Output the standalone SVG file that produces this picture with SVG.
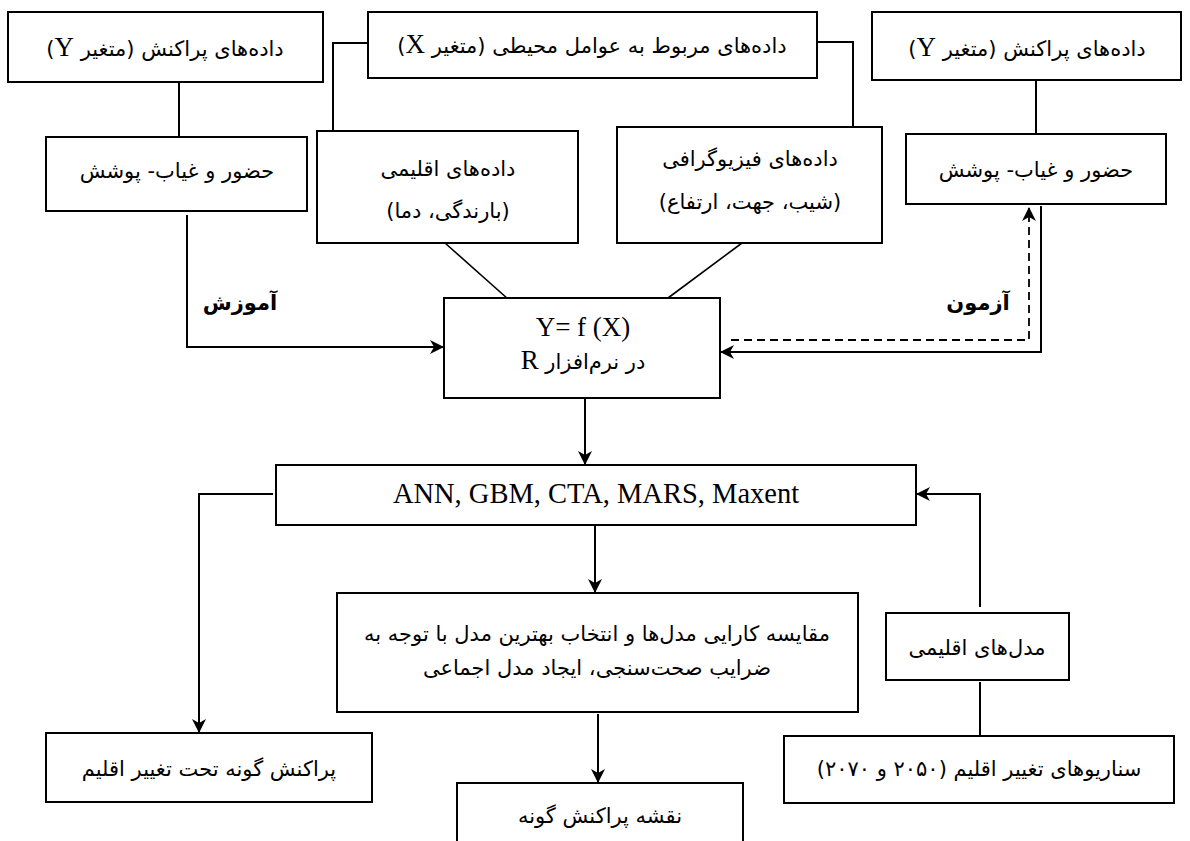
<svg xmlns="http://www.w3.org/2000/svg" width="1190" height="841" viewBox="0 0 1190 841">
<defs>
<style>
.box{fill:#fff;stroke:#000;stroke-width:2}
.ln{fill:none;stroke:#000;stroke-width:2}
.thin{fill:none;stroke:#000;stroke-width:1.6}
.dash{fill:none;stroke:#000;stroke-width:1.8;stroke-dasharray:8 5}
.fa{font-family:"DejaVu Sans",sans-serif;font-size:21px;direction:rtl;text-anchor:middle;fill:#000}
.b{font-weight:bold}
.en{font-family:"Liberation Serif",serif;font-size:27px;fill:#000}
.enc{font-family:"Liberation Serif",serif;font-size:27px;fill:#000;text-anchor:middle}
</style>
<marker id="arr" viewBox="0 0 14 14" refX="13" refY="7" markerWidth="14" markerHeight="14" markerUnits="userSpaceOnUse" orient="auto">
<path d="M0,0 L14,7 L0,14 L4,7 z" fill="#000"/>
</marker>
</defs>
<rect width="1190" height="841" fill="#fff"/>

<g id="connectors">
<line class="ln" x1="179" y1="82" x2="179" y2="137"/>
<polyline class="ln" points="368,43 333,43 333,131"/>
<polyline class="ln" points="817,42 853,42 853,127"/>
<line class="ln" x1="1036" y1="80" x2="1036" y2="134"/>
<line class="thin" x1="445" y1="243" x2="508" y2="299"/>
<line class="thin" x1="742" y1="243" x2="668" y2="298"/>
<polyline class="ln" points="187,215 187,347 443,347" marker-end="url(#arr)"/>
<polyline class="ln" points="1041,206 1041,352 721,352" marker-end="url(#arr)"/>
<polyline class="dash" points="731,340 1029,340 1029,208" marker-end="url(#arr)"/>
<line class="ln" x1="585" y1="398" x2="585" y2="464" marker-end="url(#arr)"/>
<polyline class="ln" points="273,494 199,494 199,732" marker-end="url(#arr)"/>
<polyline class="ln" points="980,607 980,494 917,494" marker-end="url(#arr)"/>
<line class="ln" x1="980" y1="682" x2="980" y2="736"/>
<line class="ln" x1="595" y1="526" x2="595" y2="592" marker-end="url(#arr)"/>
<line class="ln" x1="598" y1="714" x2="598" y2="782" marker-end="url(#arr)"/>
</g>

<g id="n-y-left">
<rect class="box" x="8" y="12" width="315" height="70"/>
<text class="fa" x="165" y="56">داده‌های پراکنش (متغیر <tspan class="en">Y</tspan>)</text>
</g>
<g id="n-x">
<rect class="box" x="368" y="12" width="449" height="66"/>
<text class="fa" x="592" y="53">داده‌های مربوط به عوامل محیطی (متغیر <tspan class="en">X</tspan>)</text>
</g>
<g id="n-y-right">
<rect class="box" x="872" y="12" width="309" height="68"/>
<text class="fa" x="1027" y="56">داده‌های پراکنش (متغیر <tspan class="en">Y</tspan>)</text>
</g>
<g id="n-pa-left">
<rect class="box" x="46" y="137" width="261" height="74"/>
<text class="fa" x="177" y="178">حضور و غیاب- پوشش</text>
</g>
<g id="n-climate">
<rect class="box" x="317" y="131" width="261" height="112"/>
<text class="fa" x="448" y="176">داده‌های اقلیمی</text>
<text class="fa" x="448" y="218">(بارندگی، دما)</text>
</g>
<g id="n-physio">
<rect class="box" x="617" y="127" width="265" height="116"/>
<text class="fa" x="750" y="166">داده‌های فیزیوگرافی</text>
<text class="fa" x="750" y="209">(شیب، جهت، ارتفاع)</text>
</g>
<g id="n-pa-right">
<rect class="box" x="906" y="134" width="260" height="70"/>
<text class="fa" x="1036" y="177">حضور و غیاب- پوشش</text>
</g>
<g id="n-model">
<rect class="box" x="444" y="298" width="276" height="100"/>
<text class="enc" x="583" y="336">Y= f (X)</text>
<text class="fa" x="583" y="369">در نرم‌افزار <tspan class="en">R</tspan></text>
</g>
<g id="lbl-train">
<text class="fa b" x="240" y="310">آموزش</text>
</g>
<g id="lbl-test">
<text class="fa b" x="978" y="310">آزمون</text>
</g>
<g id="n-algos">
<rect class="box" x="276" y="465" width="640" height="60"/>
<text class="enc" x="596" y="503" style="font-size:28.5px">ANN, GBM, CTA, MARS, Maxent</text>
</g>
<g id="n-compare">
<rect class="box" x="337" y="593" width="521" height="119"/>
<text class="fa" x="597" y="641">مقایسه کارایی مدل‌ها و انتخاب بهترین مدل با توجه به</text>
<text class="fa" x="597" y="675">ضرایب صحت‌سنجی، ایجاد مدل اجماعی</text>
</g>
<g id="n-gcm">
<rect class="box" x="886" y="613" width="183" height="67"/>
<text class="fa" x="977" y="655">مدل‌های اقلیمی</text>
</g>
<g id="n-range">
<rect class="box" x="46" y="733" width="326" height="69"/>
<text class="fa" x="209" y="776">پراکنش گونه تحت تغییر اقلیم</text>
</g>
<g id="n-scen">
<rect class="box" x="784" y="736" width="390" height="67"/>
<text class="fa" x="979" y="776">سناریوهای تغییر اقلیم (۲۰۵۰ و ۲۰۷۰)</text>
</g>
<g id="n-map">
<rect class="box" x="457" y="783" width="286" height="80"/>
<text class="fa" x="600" y="823">نقشه پراکنش گونه</text>
</g>
</svg>
